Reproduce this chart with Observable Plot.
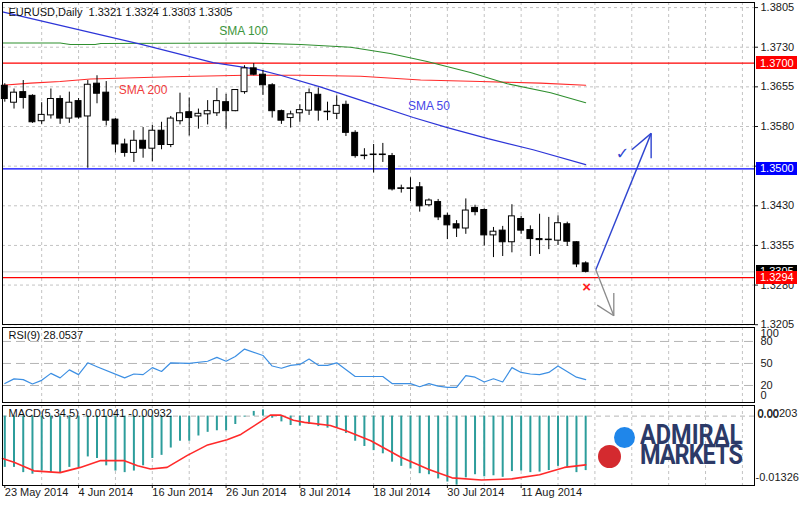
<!DOCTYPE html>
<html><head><meta charset="utf-8">
<script src="https://cdn.jsdelivr.net/npm/d3@7"></script>
<script src="https://cdn.jsdelivr.net/npm/@observablehq/plot@0.6"></script>
<style>
html,body{margin:0;padding:0;background:#fff;width:800px;height:506px;overflow:hidden;font-family:"Liberation Sans",Arial,sans-serif}
#wrap{position:relative;width:800px;height:506px;background:#fff}
#logo{position:absolute;left:596px;top:424px;width:150px;height:48px}
#logo .c{position:absolute;border-radius:50%}
#logo .t{position:absolute;left:44px;top:1px;font-family:Roboto,"Liberation Sans",sans-serif;font-weight:700;font-size:28px;line-height:20px;color:#2c3a68;transform:scaleX(0.84);transform-origin:left top;white-space:nowrap}
#logo .t span{display:block}
</style></head><body><div id="wrap"></div><script>
// ---------- data ----------
const opens  = [1.3657,1.3625,1.3645,1.3638,1.3590,1.3601,1.3632,1.3595,1.3628,1.3599,
                1.3661,1.3644,1.3593,1.3546,1.3530,1.3553,1.3538,1.3572,1.3545,1.3590,
                1.3607,1.3599,1.3603,1.3605,1.3626,1.3609,1.3645,1.3690,1.3678,1.3658,
                1.3609,1.3596,1.3605,1.3610,1.3640,1.3608,1.3604,1.3621,1.3568,1.3525,
                1.3527,1.3526,1.3524,1.3463,1.3463,1.3465,1.3431,1.3437,1.3411,1.3395,
                1.3387,1.3426,1.3422,1.3374,1.3383,1.3361,1.3405,1.3384,1.3367,1.3366,
                1.3364,1.3395,1.3361,1.3321];
const highs  = [1.3661,1.3651,1.3667,1.3640,1.3625,1.3651,1.3638,1.3645,1.3633,1.3667,
                1.3676,1.3665,1.3595,1.3556,1.3572,1.3578,1.3582,1.3588,1.3599,1.3643,
                1.3634,1.3613,1.3629,1.3652,1.3641,1.3650,1.3695,1.3699,1.3686,1.3661,
                1.3611,1.3609,1.3621,1.3651,1.3653,1.3626,1.3638,1.3628,1.3572,1.3538,
                1.3546,1.3548,1.3529,1.3469,1.3483,1.3474,1.3443,1.3442,1.3416,1.3402,
                1.3443,1.3431,1.3424,1.3389,1.3391,1.3432,1.3410,1.3392,1.3414,1.3408,
                1.3411,1.3399,1.3362,1.3324];
const lows   = [1.3626,1.3613,1.3613,1.3586,1.3584,1.3594,1.3584,1.3586,1.3594,1.3501,
                1.3623,1.3581,1.3530,1.3522,1.3512,1.3520,1.3513,1.3536,1.3540,1.3583,
                1.3562,1.3575,1.3583,1.3599,1.3575,1.3608,1.3641,1.3676,1.3639,1.3596,
                1.3584,1.3577,1.3588,1.3601,1.3590,1.3591,1.3593,1.3561,1.3520,1.3517,
                1.3492,1.3512,1.3458,1.3454,1.3438,1.3418,1.3428,1.3402,1.3366,1.3370,
                1.3376,1.3411,1.3354,1.3332,1.3334,1.3341,1.3376,1.3334,1.3338,1.3347,
                1.3355,1.3353,1.3313,1.3303];
const closes = [1.3632,1.3644,1.3634,1.3588,1.3602,1.3632,1.3595,1.3625,1.3597,1.3659,
                1.3642,1.3591,1.3546,1.3530,1.3553,1.3538,1.3572,1.3545,1.3595,1.3605,
                1.3596,1.3604,1.3609,1.3628,1.3609,1.3649,1.3690,1.3678,1.3658,1.3609,
                1.3591,1.3603,1.3611,1.3643,1.3610,1.3607,1.3619,1.3568,1.3524,1.3524,
                1.3526,1.3527,1.3461,1.3462,1.3462,1.3429,1.3440,1.3408,1.3393,1.3387,
                1.3421,1.3418,1.3374,1.3381,1.3361,1.3410,1.3383,1.3367,1.3365,1.3365,
                1.3397,1.3362,1.3319,1.3305];

// moving averages: [bar index, price]
const sma50  = [[-0.25,1.3797],[14.7,1.3736],[22.6,1.3701],[27.4,1.3688],[29.9,1.3677],[34.2,1.3655],
                [38.9,1.3628],[44.3,1.3597],[48,1.3578],[52.4,1.3557],[57.3,1.3536],[63,1.3508]];
const sma100 = [[-0.25,1.3738],[6,1.3738],[7.1,1.3735],[9.8,1.3735],[10.4,1.3737],[26.7,1.3738],
                [32.1,1.3735],[37.5,1.3730],[41.8,1.3718],[45.8,1.3703],[50.5,1.3682],[54.5,1.3661],
                [59.2,1.3644],[63,1.3625]];
const sma200 = [[-0.25,1.3658],[2.8,1.3662],[6,1.3665],[9.3,1.3670],[18,1.3674],[26.1,1.3677],
                [32.1,1.3677],[38.6,1.3675],[45.1,1.3668],[51.6,1.3665],[58.1,1.3662],[63,1.3658]];

// RSI(9): [bar index, value]
const rsi = [[0,22.6],[1,29],[2,28],[3,22],[4,27],[5,36.5],[6,30.4],[7,41.3],[8,34.8],[9,50.9],[10,45.6],
             [13,30.4],[14,35.6],[15,34.8],[16,44.3],[17,39.1],[18,50.9],[20,50],[22,53],[23,58.3],[24,53],
             [25,59.6],[26,69.6],[28,60.9],[29,46.5],[30,43.5],[31,47.4],[32,48.7],[33,56],[34,47.4],[35,47.4],
             [36,50.9],[38,32.2],[41,32.2],[42,22.6],[44,22.6],[45,18.3],[46,22.6],[47,19.1],[48,17.4],[49,17.4],
             [50,33.5],[51,31.3],[52,24.8],[53,29.1],[54,24.8],[55,44.3],[56,37.8],[57,35.6],[58,34.8],[59,37.8],
             [60,46.5],[62,31.3],[63,28.0537]];
const rsiLevels = [80, 50, 20];

// MACD(5,34,5) histogram per bar, and signal line [bar index, value]
const macdHist = [-0.0098,-0.0098,-0.0108,-0.0111,-0.0105,-0.0108,-0.0108,-0.0098,-0.0098,-0.0078,
                  -0.0081,-0.0095,-0.0105,-0.0108,-0.0105,-0.0095,-0.0081,-0.0075,-0.0061,-0.0048,
                  -0.0048,-0.0038,-0.0031,-0.0028,-0.0028,-0.0016,-0.0002,0.0009,0.0012,-0.0004,
                  -0.0011,-0.0018,-0.0019,-0.0016,-0.0020,-0.0023,-0.0022,-0.0033,-0.0048,-0.0058,
                  -0.0066,-0.0072,-0.0088,-0.0096,-0.0101,-0.0110,-0.0112,-0.0120,-0.0126,-0.0132,
                  -0.0118,-0.0112,-0.0116,-0.0114,-0.0117,-0.0106,-0.0105,-0.0108,-0.0107,-0.0104,
                  -0.0096,-0.0098,-0.0108,-0.01041];
const macdSignal = [[-0.25,-0.0081],[1,-0.0088],[3.15,-0.01046],[6,-0.0108],[8.2,-0.0098],[10.4,-0.0085],
                    [12.9,-0.0085],[14.4,-0.0095],[15.8,-0.0101],[17.6,-0.0098],[19.8,-0.0075],[22,-0.0055],
                    [24.1,-0.0045],[25.6,-0.0035],[27.7,-0.0011],[28.8,0.0002],[29.9,0.0002],[31.3,-0.0008],
                    [32.5,-0.0012],[35.3,-0.0018],[37,-0.0028],[39.7,-0.0047],[42.9,-0.0078],[46,-0.0102],
                    [48.5,-0.0118],[51.7,-0.0122],[55,-0.0120],[58,-0.0112],[60.7,-0.0098],[63,-0.00932]];
const macdRange = [-0.01326, 0.00203];

// axes
const priceTicks = [1.3805,1.3730,1.3655,1.3580,1.3505,1.3430,1.3355,1.3280,1.3205];
const priceTickLabels = [1.3805,1.3730,1.3655,1.3580,1.3430,1.3355,1.3280,1.3205]; // 1.3505 is hidden under the 1.3500 box
const dateTickBars = [0,8,16,24,32,40,48,56];
const dateLabels = ["23 May 2014","4 Jun 2014","16 Jun 2014","26 Jun 2014","8 Jul 2014","18 Jul 2014","30 Jul 2014","11 Aug 2014"];
const gridBars = d3.range(4, 82, 4);

// horizontal levels and price boxes
const levelPrices = [1.3700, 1.3500, 1.3294];
const levelColors = ["#ff0000", "#0000ff", "#ff0000"];
const bidPrice = 1.3305;

// annotations (bar index, price)
const smaLabels = [
  {i:25.9, p:1.3761, t:"SMA 100", c:"#3c963c"},
  {i:15.0, p:1.3649, t:"SMA 200", c:"#f03c3c"},
  {i:46.0, p:1.3619, t:"SMA 50",  c:"#4646e6"}
];
const blueArrow = [
  {x1:64.1, y1:1.3309, x2:70.1, y2:1.3567},
  {x1:70.1, y1:1.3567, x2:70.1, y2:1.3520},
  {x1:70.1, y1:1.3567, x2:68.0, y2:1.3536}
];
const grayArrow = [
  {x1:64.1, y1:1.3309, x2:66.05, y2:1.3222},
  {x1:66.05, y1:1.3222, x2:64.25, y2:1.3242},
  {x1:66.05, y1:1.3222, x2:66.05, y2:1.3265}
];
const checkMark = [{i:67.0, p:1.3528}];
const crossMark = [{i:63.1, p:1.3276}];

// ---------- build ----------
const wrap = document.getElementById("wrap");
const N = opens.length;
const candles = d3.range(N).map(i => ({i, o:opens[i], h:highs[i], l:lows[i], c:closes[i]}));
const xDomain = [-0.2495, 81.31];
const FONT = "Liberation Sans, Arial, sans-serif";
const f4 = d3.format(".4f");
const gridStyle = {stroke:"#c3c3c3", strokeDasharray:"3,3"};

function getArgs(args){
  if (args[0] && typeof args[0].y === "function") return {scales:args[0], dims:args[1]};
  return {scales:args[1], dims:args[3]};
}
function priceBoxes(boxes){
  return function(...args){
    const {scales, dims} = getArgs(args);
    const g = d3.create("svg:g");
    const x0 = dims.width - dims.marginRight + 2;
    for (const b of boxes){
      const y = scales.y(b.v);
      g.append("rect").attr("x", x0).attr("y", Math.round(y - 6.5)).attr("width", 41).attr("height", 13).attr("fill", b.bg);
      g.append("text").attr("x", x0 + 4).attr("y", Math.round(y)).attr("dy", "0.36em")
        .attr("text-anchor", "start").attr("fill", "#fff").attr("font-size", 11)
        .attr("font-family", FONT).text(f4(b.v));
    }
    return g.node();
  };
}
const boxes = [{v:bidPrice, bg:"#000"}].concat(levelPrices.map((v,k) => ({v, bg:levelColors[k]})));
const last = N - 1;

const mainTitle = `EURUSD,Daily\u00a0 ${f4(opens[last])} ${f4(highs[last])} ${f4(lows[last])} ${f4(closes[last])}`;

const main = Plot.plot({
  width:800, height:326, marginLeft:2, marginRight:46, marginTop:2, marginBottom:2,
  x:{domain:xDomain, axis:null, label:null},
  y:{domain:[1.32054, 1.38146], axis:null, label:null},
  style:{fontFamily:FONT, fontSize:"11px", background:"transparent", color:"#1a1a1a", overflow:"visible"},
  marks:[
    Plot.ruleY(priceTicks, gridStyle),
    Plot.ruleX(gridBars, gridStyle),
    Plot.ruleY([bidPrice], {stroke:"#c8c8c8"}),
    Plot.ruleY(levelPrices, {stroke:(d,k) => levelColors[k], strokeWidth:1.2}),
    Plot.line(sma200, {x:d=>d[0], y:d=>d[1], stroke:"#ff2a2a", strokeWidth:1.1}),
    Plot.line(sma100, {x:d=>d[0], y:d=>d[1], stroke:"#2f8f2f", strokeWidth:1.1}),
    Plot.line(sma50,  {x:d=>d[0], y:d=>d[1], stroke:"#2d35d8", strokeWidth:1.2}),
    Plot.ruleX(candles, {x:"i", y1:"l", y2:"h", stroke:"#000"}),
    Plot.rect(candles, {x1:d=>d.i-0.32, x2:d=>d.i+0.32, y1:"o", y2:"c",
      fill:d => d.c >= d.o ? "#fff" : "#000", stroke:"#000", strokeWidth:1}),
    Plot.text(smaLabels, {x:"i", y:"p", text:"t", fill:d=>d.c, fontSize:12}),
    Plot.link(blueArrow, {x1:"x1", y1:"y1", x2:"x2", y2:"y2", stroke:"#2f45d0", strokeWidth:1.4}),
    Plot.link(grayArrow, {x1:"x1", y1:"y1", x2:"x2", y2:"y2", stroke:"#8a8a8a", strokeWidth:1.3}),
    Plot.text(checkMark, {x:"i", y:"p", text:()=>"\u2713", fill:"#2f45d0", fontSize:16, fontFamily:"DejaVu Sans", fontWeight:"bold"}),
    Plot.text(crossMark, {x:"i", y:"p", text:()=>"\u00d7", fill:"#ff2020", fontSize:15, fontWeight:"bold"}),
    Plot.text([mainTitle], {frameAnchor:"top-left", dx:6, dy:10, textAnchor:"start", lineAnchor:"middle", fill:"#111", fontSize:11}),
    Plot.axisY(priceTicks, {anchor:"right", tickSize:3, text:null, label:null}),
    Plot.axisY(priceTickLabels, {anchor:"right", tickFormat:f4, tickSize:0, tickPadding:6, fontSize:11, label:null}),
    Plot.frame({stroke:"#000"}),
    priceBoxes(boxes)
  ]
});

const rsiPlot = Plot.plot({
  width:800, height:78, marginLeft:2, marginRight:46, marginTop:1, marginBottom:2,
  x:{domain:xDomain, axis:null, label:null},
  y:{domain:[-3.2, 99.0], axis:null, label:null},
  style:{fontFamily:FONT, fontSize:"11px", background:"transparent", color:"#1a1a1a", overflow:"visible"},
  marks:[
    Plot.ruleX(gridBars, gridStyle),
    Plot.ruleY(rsiLevels, {stroke:"#b4b4b4", strokeDasharray:"9,5"}),
    Plot.line(rsi, {x:d=>d[0], y:d=>d[1], stroke:"#3c8fe3", strokeWidth:1.2}),
    Plot.text([`RSI(9) ${rsi[rsi.length-1][1].toFixed(4)}`], {frameAnchor:"top-left", dx:6, dy:8, textAnchor:"start", lineAnchor:"middle", fill:"#111", fontSize:11}),
    Plot.axisY(rsiLevels, {anchor:"right", tickSize:0, tickPadding:6, fontSize:11, label:null}),
    Plot.text([100], {y:d=>d, text:d=>String(d), frameAnchor:"right", dx:6, dy:7, textAnchor:"start", fontSize:11, fill:"#1a1a1a"}),
    Plot.text([0], {y:d=>d, text:d=>String(d), frameAnchor:"right", dx:6, dy:-5, textAnchor:"start", fontSize:11, fill:"#1a1a1a"}),
    Plot.frame({stroke:"#000"})
  ]
});

const hist = macdHist.map((v,i) => ({i, v}));
const macdPlot = Plot.plot({
  width:800, height:102, marginLeft:2, marginRight:46, marginTop:1, marginBottom:21,
  x:{domain:xDomain, axis:null, label:null},
  y:{domain:macdRange, axis:null, label:null},
  style:{fontFamily:FONT, fontSize:"11px", background:"transparent", color:"#1a1a1a", overflow:"visible"},
  marks:[
    Plot.ruleX(gridBars, gridStyle),
    Plot.ruleY([0], {stroke:"#b4b4b4", strokeDasharray:"5,4"}),
    Plot.ruleX(hist, {x:"i", y1:0, y2:"v", stroke:"#2c9d9b", strokeWidth:2}),
    Plot.line(macdSignal, {x:d=>d[0], y:d=>d[1], stroke:"#ff2a2a", strokeWidth:1.6}),
    Plot.text([`MACD(5,34,5) ${macdHist[last].toFixed(5)} ${macdSignal[macdSignal.length-1][1].toFixed(5)}`],
      {frameAnchor:"top-left", dx:6, dy:8, textAnchor:"start", lineAnchor:"middle", fill:"#111", fontSize:11}),
    Plot.text([macdRange[1]], {y:d=>d, text:d=>d.toFixed(5), frameAnchor:"right", dx:3, dy:8, textAnchor:"start", fontSize:11, fill:"#1a1a1a"}),
    Plot.text([0], {y:d=>d, text:()=>"0.00", frameAnchor:"right", dx:3, dy:-2, textAnchor:"start", fontSize:11, fill:"#1a1a1a"}),
    Plot.text([macdRange[0]], {y:d=>d, text:d=>d.toFixed(5), frameAnchor:"right", dx:1, dy:-8, textAnchor:"start", fontSize:11, fill:"#1a1a1a"}),
    Plot.axisX(dateTickBars, {anchor:"bottom", tickFormat:d => dateLabels[dateTickBars.indexOf(d)], textAnchor:"start",
      tickSize:3, tickPadding:0, fontSize:11, label:null}),
    Plot.frame({stroke:"#000"})
  ]
});

function place(el, top){ el.style.position = "absolute"; el.style.left = "0px"; el.style.top = top + "px"; wrap.appendChild(el); }
place(main, 0);
place(rsiPlot, 326);
place(macdPlot, 404);

// logo
const logo = document.createElement("div");
logo.id = "logo";
logo.innerHTML = `<div class="c" style="left:18px;top:3px;width:21px;height:21px;background:#1f86ea"></div>
<div class="c" style="left:2px;top:21px;width:23px;height:23px;background:#d42a2f"></div>
<div class="t"><span>ADMIRAL</span><span style="letter-spacing:-1.2px">MARKETS</span></div>`;
wrap.appendChild(logo);
</script></body></html>
